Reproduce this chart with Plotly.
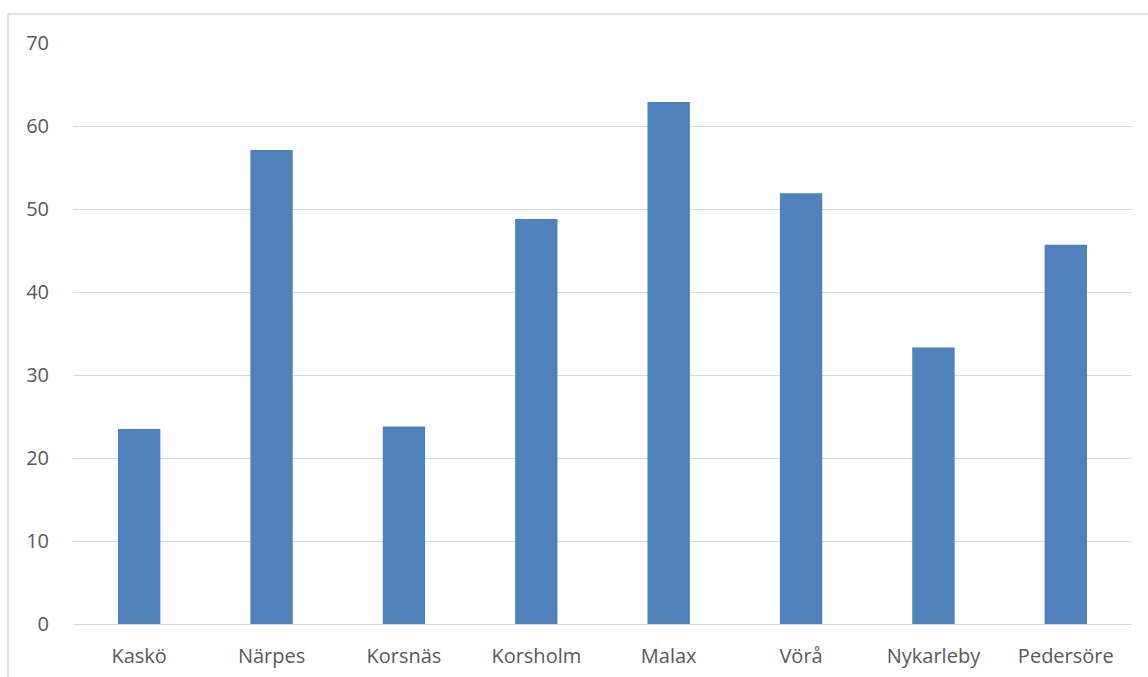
import plotly.graph_objects as go

categories = ["Kaskö", "Närpes", "Korsnäs", "Korsholm", "Malax", "Vörå", "Nykarleby", "Pedersöre"]
values = [23.5, 57.1, 23.8, 48.8, 62.9, 51.9, 33.3, 45.7]
y_ticks = [0, 10, 20, 30, 40, 50, 60, 70]

W, H = 1148, 677
L, R, T, B = 73, 16, 43, 53
pw, ph = W - L - R, H - T - B

fig = go.Figure(go.Bar(x=categories, y=values, marker=dict(color="#4f81bd", line=dict(width=0)), width=0.32))

fig.update_layout(
    width=W, height=H,
    margin=dict(l=L, r=R, t=T, b=B, pad=0),
    paper_bgcolor="white", plot_bgcolor="white",
    font=dict(family="Open Sans, Noto Sans, sans-serif", size=20, color="#595959"),
    showlegend=False,
    bargap=0.68,
    xaxis=dict(showgrid=False, showline=False, ticks="", ticklabelstandoff=18, automargin=False),
    yaxis=dict(range=[0, 70], tickvals=y_ticks, showgrid=True, gridcolor="#d9d9d9", gridwidth=1,
               zeroline=True, zerolinecolor="#d9d9d9", zerolinewidth=1,
               showline=False, ticks="", ticklabelstandoff=23, automargin=False),
    shapes=[dict(type="rect", xref="paper", yref="paper",
                 x0=(8 - L) / pw, x1=1.2, y0=-0.3, y1=(H - B - 14) / ph,
                 line=dict(color="#d9d9d9", width=1.5), fillcolor="rgba(0,0,0,0)", layer="below")],
)

fig.write_html("out.html")
